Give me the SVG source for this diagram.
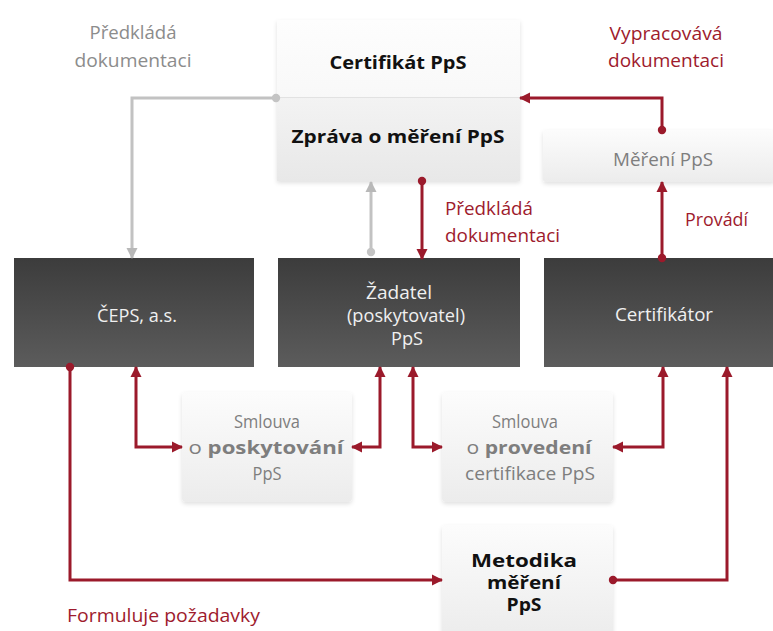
<svg xmlns="http://www.w3.org/2000/svg" width="773" height="631" viewBox="0 0 773 631">
<defs>
<linearGradient id="gDark" x1="0" y1="0" x2="0" y2="1"><stop offset="0" stop-color="#3c3c3c"/><stop offset="1" stop-color="#5c5c5c"/></linearGradient>
<linearGradient id="gLight" x1="0" y1="0" x2="0" y2="1"><stop offset="0" stop-color="#fcfcfc"/><stop offset="1" stop-color="#ececec"/></linearGradient>
<linearGradient id="gTop1" x1="0" y1="0" x2="0" y2="1"><stop offset="0" stop-color="#fdfdfd"/><stop offset="1" stop-color="#f3f3f3"/></linearGradient>
<linearGradient id="gTop2" x1="0" y1="0" x2="0" y2="1"><stop offset="0" stop-color="#f3f3f3"/><stop offset="1" stop-color="#e8e8e8"/></linearGradient>
<filter id="sh" x="-10%" y="-10%" width="120%" height="125%"><feDropShadow dx="0" dy="2" stdDeviation="2" flood-color="#000" flood-opacity="0.12"/></filter>
<marker id="ar" markerUnits="userSpaceOnUse" markerWidth="12" markerHeight="12" viewBox="0 0 12 12" refX="10" refY="6" orient="auto-start-reverse"><path d="M0,0.5 L11,6 L0,11.5 z" fill="#9b1a2b"/></marker>
<marker id="dr" markerUnits="userSpaceOnUse" markerWidth="10" markerHeight="10" viewBox="0 0 10 10" refX="5" refY="5"><circle cx="5" cy="5" r="4.2" fill="#9b1a2b"/></marker>
<marker id="ag" markerUnits="userSpaceOnUse" markerWidth="12" markerHeight="12" viewBox="0 0 12 12" refX="10" refY="6" orient="auto"><path d="M0,0.5 L11,6 L0,11.5 z" fill="#b8b8b8"/></marker>
<marker id="dg" markerUnits="userSpaceOnUse" markerWidth="10" markerHeight="10" viewBox="0 0 10 10" refX="5" refY="5"><circle cx="5" cy="5" r="4.2" fill="#c4c4c4"/></marker>
</defs>
<style>
text{font-family:"Open Sans","Noto Sans","DejaVu Sans",sans-serif;text-anchor:middle}
.dark{fill:url(#gDark)}
.light{fill:url(#gLight);filter:url(#sh)}
.wt{fill:#f0f0f0;font-size:18px}
.gt{fill:#7e7e7e;font-size:18px}
.bt{fill:#111;font-size:18px;font-weight:bold}
.mt{fill:#111;font-size:17px;font-weight:bold}
.lg{fill:#8c8c8c;font-size:18px}
.lr{fill:#9e1b2d;font-size:18px}
.cr{fill:none;stroke:#9b1a2b;stroke-width:3}
.cg{fill:none;stroke:#c2c2c2;stroke-width:3}
</style>
<g id="labels">
<text class="lg" x="133" y="39" textLength="87" lengthAdjust="spacingAndGlyphs">Předkládá</text>
<text class="lg" x="133" y="67" textLength="117" lengthAdjust="spacingAndGlyphs">dokumentaci</text>
<text class="lr" x="666" y="40" textLength="113" lengthAdjust="spacingAndGlyphs">Vypracovává</text>
<text class="lr" x="666" y="67" textLength="116" lengthAdjust="spacingAndGlyphs">dokumentaci</text>
<text class="lr" x="445" y="215" style="text-anchor:start" textLength="88" lengthAdjust="spacingAndGlyphs">Předkládá</text>
<text class="lr" x="445" y="242" style="text-anchor:start" textLength="115" lengthAdjust="spacingAndGlyphs">dokumentaci</text>
<text class="lr" x="685" y="226" style="text-anchor:start" textLength="63" lengthAdjust="spacingAndGlyphs">Provádí</text>
<text class="lr" x="67" y="622" style="text-anchor:start" textLength="193" lengthAdjust="spacingAndGlyphs">Formuluje požadavky</text>
</g>
<g id="certifikat">
<rect x="277" y="20" width="243" height="161" fill="url(#gTop1)" filter="url(#sh)"/>
<rect x="277" y="97" width="243" height="84" fill="url(#gTop2)"/>
<line x1="277" y1="97.5" x2="520" y2="97.5" stroke="#e2e2e2" stroke-width="1"/>
<text class="bt" x="398" y="69" textLength="137" lengthAdjust="spacingAndGlyphs">Certifikát PpS</text>
<text class="bt" x="398" y="143" textLength="213" lengthAdjust="spacingAndGlyphs">Zpráva o měření PpS</text>
</g>
<g id="mereni">
<rect class="light" x="543" y="130" width="232" height="52" rx="3"/>
<text class="gt" x="663" y="166" textLength="100" lengthAdjust="spacingAndGlyphs">Měření PpS</text>
</g>
<g id="ceps">
<rect class="dark" x="14" y="258" width="240" height="109"/>
<text class="wt" x="137" y="322" textLength="80" lengthAdjust="spacingAndGlyphs">ČEPS, a.s.</text>
</g>
<g id="zadatel">
<rect class="dark" x="278" y="258" width="242" height="109"/>
<text class="wt" x="399" y="299" textLength="66" lengthAdjust="spacingAndGlyphs">Žadatel</text>
<text class="wt" x="406" y="322" textLength="118" lengthAdjust="spacingAndGlyphs">(poskytovatel)</text>
<text class="wt" x="407" y="345" textLength="32" lengthAdjust="spacingAndGlyphs">PpS</text>
</g>
<g id="certifikator">
<rect class="dark" x="544" y="258" width="231" height="109"/>
<text class="wt" x="664" y="321" textLength="98" lengthAdjust="spacingAndGlyphs">Certifikátor</text>
</g>
<g id="smlouva1">
<rect class="light" x="182" y="392" width="170" height="110" rx="4"/>
<text class="gt" x="267" y="428" textLength="66" lengthAdjust="spacingAndGlyphs">Smlouva</text>
<text class="gt" x="266" y="454" textLength="155" lengthAdjust="spacingAndGlyphs">o <tspan font-weight="bold">poskytování</tspan></text>
<text class="gt" x="267" y="480" textLength="29" lengthAdjust="spacingAndGlyphs">PpS</text>
</g>
<g id="smlouva2">
<rect class="light" x="442" y="392" width="171" height="110" rx="4"/>
<text class="gt" x="525" y="428" textLength="66" lengthAdjust="spacingAndGlyphs">Smlouva</text>
<text class="gt" x="529" y="454" textLength="125" lengthAdjust="spacingAndGlyphs">o <tspan font-weight="bold">provedení</tspan></text>
<text class="gt" x="530" y="480" textLength="130" lengthAdjust="spacingAndGlyphs">certifikace PpS</text>
</g>
<g id="metodika">
<rect class="light" x="442" y="525" width="171" height="112" rx="4"/>
<text class="mt" x="524" y="567" textLength="106" lengthAdjust="spacingAndGlyphs">Metodika</text>
<text class="mt" x="524" y="589" textLength="74" lengthAdjust="spacingAndGlyphs">měření</text>
<text class="mt" x="524" y="611" textLength="35" lengthAdjust="spacingAndGlyphs">PpS</text>
</g>
<g id="connectors">
<path class="cg" d="M276,98 H132 V258" marker-start="url(#dg)" marker-end="url(#ag)"/>
<path class="cg" d="M371,252 V182" marker-start="url(#dg)" marker-end="url(#ag)"/>
<path class="cr" d="M422,181 V259" marker-start="url(#dr)" marker-end="url(#ar)"/>
<path class="cr" d="M662,130 V98 H520" marker-start="url(#dr)" marker-end="url(#ar)"/>
<path class="cr" d="M662,258 V182" marker-start="url(#dr)" marker-end="url(#ar)"/>
<path class="cr" d="M136,367 V447 H182" marker-start="url(#ar)" marker-end="url(#ar)"/>
<path class="cr" d="M380,367 V447 H352" marker-start="url(#ar)" marker-end="url(#ar)"/>
<path class="cr" d="M413,367 V447 H442" marker-start="url(#ar)" marker-end="url(#ar)"/>
<path class="cr" d="M663,367 V447 H613" marker-start="url(#ar)" marker-end="url(#ar)"/>
<path class="cr" d="M70,367 V580 H442" marker-start="url(#dr)" marker-end="url(#ar)"/>
<path class="cr" d="M613,580 H727 V367" marker-start="url(#dr)" marker-end="url(#ar)"/>
</g>
</svg>
